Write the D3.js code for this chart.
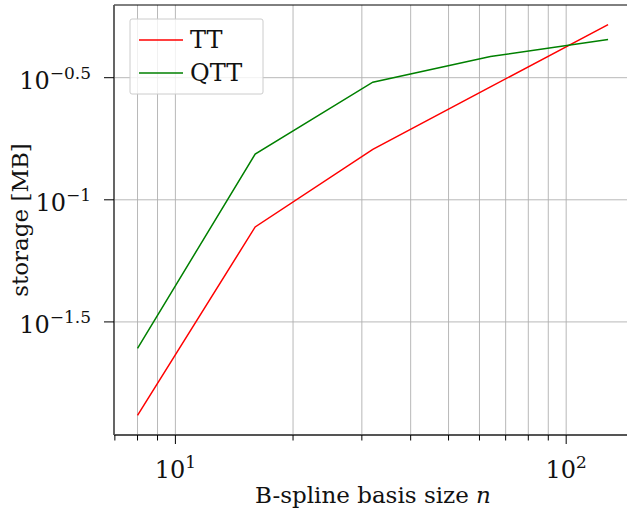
<!DOCTYPE html>
<html>
<head>
<meta charset="utf-8">
<script src="https://cdn.jsdelivr.net/npm/d3@7"></script>
<style>
  body { margin: 0; background: #fff; }
</style>
</head>
<body>
<div class="chart"></div>
<script>
// basis sizes and storage in MB
var sizes = [8, 16, 32, 64, 128];
var ttStorage = [0.01309, 0.0774, 0.161, 0.290, 0.522];
var qttStorage = [0.02466, 0.1538, 0.303, 0.386, 0.453];
var seriesNames = ['TT', 'QTT'];
var seriesColors = ['#ff0000', '#008000'];
var xMinorTicks = [7, 8, 9, 10, 20, 30, 40, 50, 60, 70, 80, 90, 100];
var xMajorTicks = [1, 2];          // exponents of 10
var yTickExps = ['-0.5', '-1', '-1.5'];

var W = 627, H = 512;
var margin = { top: 5, left: 114, bottom: 77 };
var plotW = 517.6;                 // right spine falls just past the window
var plotH = H - margin.top - margin.bottom;
var FONT = 'DejaVu Serif';

var series = [ttStorage, qttStorage].map((vals, i) => ({
  name: seriesNames[i],
  color: seriesColors[i],
  points: sizes.map((n, j) => ({ n: n, v: vals[j] }))
}));

// matplotlib-style 5% margins in log space
function logPad(ext) {
  var a = Math.log10(ext[0]), b = Math.log10(ext[1]), p = (b - a) * 0.05;
  return [Math.pow(10, a - p), Math.pow(10, b + p)];
}
var allV = ttStorage.concat(qttStorage);

var x = d3.scaleLog()
  .domain(logPad(d3.extent(sizes)))
  .range([margin.left, margin.left + plotW]);
var y = d3.scaleLog()
  .domain(logPad(d3.extent(allV)))
  .range([margin.top + plotH, margin.top]);

var svg = d3.select('.chart').append('svg')
  .attr('width', W)
  .attr('height', H)
  .style('font-family', FONT);

var defs = svg.append('defs');
defs.append('clipPath').attr('id', 'clip')
  .append('rect')
    .attr('x', margin.left).attr('y', margin.top)
    .attr('width', plotW).attr('height', plotH);

// grid
var grid = svg.append('g').attr('stroke', '#b0b0b0').attr('stroke-width', 0.9);
grid.selectAll('.vx')
  .data(xMinorTicks.filter(d => d > 7))
  .enter().append('line')
    .attr('x1', d => x(d)).attr('x2', d => x(d))
    .attr('y1', margin.top).attr('y2', margin.top + plotH);
grid.selectAll('.hy')
  .data(yTickExps)
  .enter().append('line')
    .attr('x1', margin.left).attr('x2', margin.left + plotW)
    .attr('y1', d => y(Math.pow(10, +d))).attr('y2', d => y(Math.pow(10, +d)));

// lines
var line = d3.line().x(d => x(d.n)).y(d => y(d.v));
svg.append('g').attr('clip-path', 'url(#clip)')
  .selectAll('path')
  .data(series)
  .enter().append('path')
    .attr('d', d => line(d.points))
    .attr('fill', 'none')
    .attr('stroke', d => d.color)
    .attr('stroke-width', 1.5);

// spines
svg.append('line')
  .attr('x1', margin.left).attr('x2', W)
  .attr('y1', margin.top).attr('y2', margin.top)
  .attr('stroke', '#000').attr('stroke-width', 1);
svg.append('line')
  .attr('x1', margin.left).attr('x2', margin.left)
  .attr('y1', margin.top).attr('y2', margin.top + plotH)
  .attr('stroke', '#555').attr('stroke-width', 1.8);
svg.append('line')
  .attr('x1', margin.left).attr('x2', W)
  .attr('y1', margin.top + plotH).attr('y2', margin.top + plotH)
  .attr('stroke', '#555').attr('stroke-width', 1.8);

// x ticks
var xb = margin.top + plotH;
svg.append('g').selectAll('line')
  .data(xMinorTicks)
  .enter().append('line')
    .attr('x1', d => x(d)).attr('x2', d => x(d))
    .attr('y1', xb).attr('y2', d => xb + (d === 10 || d === 100 ? 9 : 5.5))
    .attr('stroke', '#000').attr('stroke-width', 1);

var xl = svg.append('g').attr('font-size', 24).attr('fill', '#111');
xMajorTicks.forEach(function (e) {
  var t = xl.append('text')
    .attr('x', x(Math.pow(10, e)))
    .attr('y', 478)
    .attr('text-anchor', 'middle');
  t.append('tspan').text('10');
  t.append('tspan').attr('font-size', 17).attr('dy', -10).text(e);
});

// y ticks
svg.append('g').selectAll('line')
  .data(yTickExps)
  .enter().append('line')
    .attr('x1', margin.left - 10).attr('x2', margin.left)
    .attr('y1', d => y(Math.pow(10, +d))).attr('y2', d => y(Math.pow(10, +d)))
    .attr('stroke', '#000').attr('stroke-width', 1);

var yl = svg.append('g').attr('font-size', 24).attr('fill', '#111');
yTickExps.forEach(function (e) {
  var t = yl.append('text')
    .attr('x', 91)
    .attr('y', y(Math.pow(10, +e)) + 11)
    .attr('text-anchor', 'end');
  t.append('tspan').text('10');
  t.append('tspan').attr('font-size', 17).attr('dy', -10).text('\u2212' + e.slice(1));
});

// axis labels
var xLabel = svg.append('text')
  .attr('x', 373).attr('y', 503)
  .attr('text-anchor', 'middle')
  .attr('font-size', 23)
  .attr('fill', '#111');
xLabel.append('tspan').text('B-spline basis size ');
xLabel.append('tspan').attr('font-style', 'italic').text('n');

svg.append('text')
  .attr('transform', 'translate(28,' + (margin.top + plotH / 2) + ') rotate(-90)')
  .attr('text-anchor', 'middle')
  .attr('font-size', 23)
  .attr('fill', '#111')
  .text('storage [MB]');

// legend
var lg = svg.append('g').attr('transform', 'translate(130,19)');
lg.append('rect')
  .attr('width', 133).attr('height', 75)
  .attr('rx', 2)
  .attr('fill', '#fff').attr('fill-opacity', 0.8)
  .attr('stroke', '#cccccc').attr('stroke-width', 1);
series.forEach(function (s, i) {
  var yy = 21 + i * 33;
  lg.append('line')
    .attr('x1', 9).attr('x2', 53)
    .attr('y1', yy).attr('y2', yy)
    .attr('stroke', s.color).attr('stroke-width', 1.5);
  lg.append('text')
    .attr('x', 60).attr('y', yy + 8)
    .attr('font-size', 24)
    .attr('fill', '#111')
    .text(s.name);
});
</script>
</body>
</html>
